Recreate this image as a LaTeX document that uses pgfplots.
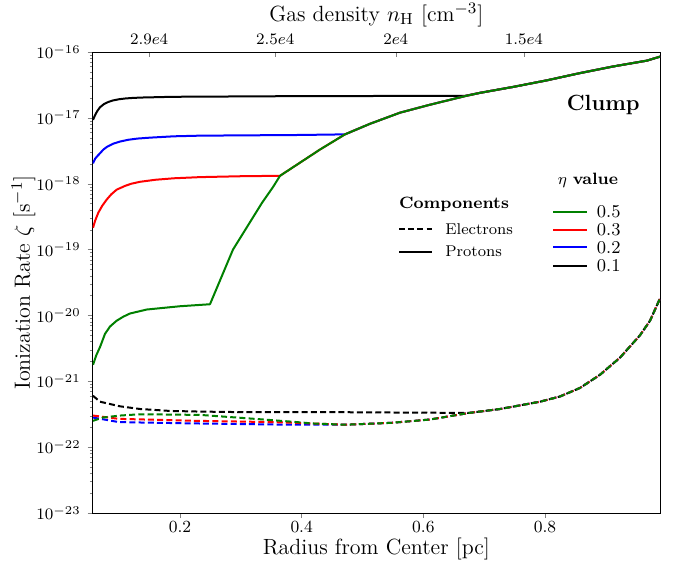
\documentclass[border=0pt]{standalone}
\usepackage{pgfplots}
\pgfplotsset{compat=1.18}
\definecolor{mgreen}{RGB}{0,128,0}

\begin{document}
\begin{tikzpicture}
% top axis: gas density
\begin{axis}[
    scale only axis, width=283.65pt, height=230.5pt,
    xmin=0.0565, xmax=0.989, ymin=0, ymax=1,
    axis x line*=top, axis y line=none,
    xtick={0.1492,0.3565,0.5546,0.7653},
    xticklabels={$2.9e4$,$2.5e4$,$2e4$,$1.5e4$},
    tick align=inside,
    major tick length=2.5pt,
    tick label style={font=\fontsize{8.5}{10}\selectfont},
    xlabel={Gas density $n_{\mathrm{H}}$ [cm$^{-3}$]},
    label style={font=\fontsize{11}{13}\selectfont, inner sep=0pt},
    xlabel style={at={(axis description cs:0.5,1.08)}, anchor=center},
]
\end{axis}

\begin{axis}[
    name=main,
    scale only axis, width=283.65pt, height=230.5pt,
    xmin=0.0565, xmax=0.989,
    ymode=log, ymin=1e-23, ymax=1e-16,
    xtick={0.2,0.4,0.6,0.8},
    xticklabels={0.2,0.4,0.6,0.8},
    ytick={1e-23,1e-22,1e-21,1e-20,1e-19,1e-18,1e-17,1e-16},
    minor ytick={2e-23,3e-23,4e-23,5e-23,6e-23,7e-23,8e-23,9e-23,
                 2e-22,3e-22,4e-22,5e-22,6e-22,7e-22,8e-22,9e-22,
                 2e-21,3e-21,4e-21,5e-21,6e-21,7e-21,8e-21,9e-21,
                 2e-20,3e-20,4e-20,5e-20,6e-20,7e-20,8e-20,9e-20,
                 2e-19,3e-19,4e-19,5e-19,6e-19,7e-19,8e-19,9e-19,
                 2e-18,3e-18,4e-18,5e-18,6e-18,7e-18,8e-18,9e-18,
                 2e-17,3e-17,4e-17,5e-17,6e-17,7e-17,8e-17,9e-17},
    tick pos=left,
    tick align=outside,
    major tick length=2.5pt,
    minor tick length=1.4pt,
    tick label style={font=\fontsize{8.5}{10}\selectfont},
    xticklabel style={yshift=2pt},
    label style={font=\fontsize{11}{13}\selectfont, inner sep=0pt},
    xlabel={Radius from Center [pc]},
    ylabel={Ionization Rate $\zeta$ [s$^{-1}$]},
    xlabel style={at={(axis description cs:0.5,-0.078)}, anchor=center},
    ylabel style={at={(axis description cs:-0.122,0.5)}, anchor=center},
    every axis plot/.append style={line width=1pt, line join=round},
]

% protons (solid)
\addplot[black] coordinates {
(0.057,9.33e-18)(0.060,1.08e-17)(0.064,1.27e-17)(0.0685,1.45e-17)(0.075,1.62e-17)
(0.0825,1.75e-17)(0.0899,1.84e-17)(0.100,1.92e-17)(0.110,1.97e-17)(0.1227,2.01e-17)
(0.140,2.04e-17)(0.160,2.06e-17)(0.1885,2.09e-17)(0.3973,2.14e-17)(0.6685,2.16e-17)
(0.6932,2.40e-17)(0.7474,2.95e-17)(0.8033,3.72e-17)(0.8576,4.79e-17)(0.9118,6.03e-17)
(0.9677,7.41e-17)(0.9891,8.51e-17)};
\addplot[blue] coordinates {
(0.057,2.04e-18)(0.0605,2.4e-18)(0.0645,2.65e-18)(0.0685,2.9e-18)(0.074,3.3e-18)
(0.080,3.63e-18)(0.090,4.05e-18)(0.1014,4.37e-18)(0.115,4.65e-18)(0.130,4.85e-18)
(0.1507,5.01e-18)(0.190,5.25e-18)(0.2329,5.37e-18)(0.3973,5.50e-18)(0.4712,5.62e-18)
(0.5123,8.13e-18)(0.5617,1.20e-17)(0.6110,1.585e-17)(0.6685,2.14e-17)(0.6932,2.40e-17)
(0.7474,2.95e-17)(0.8033,3.72e-17)(0.8576,4.79e-17)(0.9118,6.03e-17)(0.9677,7.41e-17)
(0.9891,8.51e-17)};
\addplot[red] coordinates {
(0.057,2.14e-19)(0.0605,2.75e-19)(0.0657,3.63e-19)(0.072,4.6e-19)(0.0795,5.75e-19)
(0.087,6.9e-19)(0.0959,8.13e-19)(0.110,9.3e-19)(0.120,1.0e-18)(0.1342,1.07e-18)
(0.160,1.15e-18)(0.190,1.21e-18)(0.2329,1.26e-18)(0.300,1.30e-18)(0.3644,1.32e-18)
(0.3973,2.09e-18)(0.4302,3.31e-18)(0.4712,5.62e-18)(0.5123,8.13e-18)(0.5617,1.20e-17)
(0.6110,1.585e-17)(0.6685,2.14e-17)(0.6932,2.40e-17)(0.7474,2.95e-17)(0.8033,3.72e-17)
(0.8576,4.79e-17)(0.9118,6.03e-17)(0.9677,7.41e-17)(0.9891,8.51e-17)};
\addplot[mgreen] coordinates {
(0.057,1.78e-21)(0.0625,2.5e-21)(0.0685,3.31e-21)(0.0767,5.25e-21)(0.085,6.8e-21)
(0.0959,8.32e-21)(0.107,9.6e-21)(0.1178,1.07e-20)(0.1453,1.23e-20)(0.2,1.38e-20)
(0.2493,1.48e-20)(0.2871,1.0e-19)(0.3348,5.13e-19)(0.3529,8.91e-19)(0.3644,1.32e-18)
(0.3973,2.09e-18)(0.4302,3.31e-18)(0.4712,5.62e-18)(0.5123,8.13e-18)(0.5617,1.20e-17)
(0.6110,1.585e-17)(0.6685,2.14e-17)(0.6932,2.40e-17)(0.7474,2.95e-17)(0.8033,3.72e-17)
(0.8576,4.79e-17)(0.9118,6.03e-17)(0.9677,7.41e-17)(0.9891,8.51e-17)};

% electrons (dashed)
\addplot[black, dash pattern=on 3pt off 1.6pt] coordinates {
(0.057,6.03e-22)(0.0685,4.90e-22)(0.1014,4.17e-22)(0.1342,3.80e-22)(0.1836,3.55e-22)
(0.2329,3.47e-22)(0.3151,3.39e-22)(0.4795,3.39e-22)(0.6751,3.31e-22)(0.7261,3.80e-22)
(0.7918,4.90e-22)(0.8247,5.89e-22)(0.8576,7.94e-22)(0.8905,1.26e-21)(0.9233,2.29e-21)
(0.9562,5.01e-21)(0.9726,8.32e-21)(0.9891,1.82e-20)};
\addplot[blue, dash pattern=on 3pt off 1.6pt] coordinates {
(0.057,2.82e-22)(0.0997,2.40e-22)(0.2279,2.29e-22)(0.3874,2.19e-22)(0.4712,2.19e-22)
(0.5469,2.34e-22)(0.6110,2.63e-22)(0.6751,3.31e-22)(0.7261,3.80e-22)(0.7918,4.90e-22)
(0.8247,5.89e-22)(0.8576,7.94e-22)(0.8905,1.26e-21)(0.9233,2.29e-21)(0.9562,5.01e-21)
(0.9726,8.32e-21)(0.9891,1.82e-20)};
\addplot[red, dash pattern=on 3pt off 1.6pt] coordinates {
(0.057,3.02e-22)(0.0997,2.69e-22)(0.2279,2.51e-22)(0.3545,2.40e-22)(0.4186,2.29e-22)
(0.4712,2.19e-22)(0.5469,2.34e-22)(0.6110,2.63e-22)(0.6751,3.31e-22)(0.7261,3.80e-22)
(0.7918,4.90e-22)(0.8247,5.89e-22)(0.8576,7.94e-22)(0.8905,1.26e-21)(0.9233,2.29e-21)
(0.9562,5.01e-21)(0.9726,8.32e-21)(0.9891,1.82e-20)};
\addplot[mgreen, dash pattern=on 3pt off 1.6pt] coordinates {
(0.057,2.51e-22)(0.0734,2.82e-22)(0.1014,3.02e-22)(0.1342,3.16e-22)(0.2329,3.09e-22)
(0.3233,2.69e-22)(0.3808,2.45e-22)(0.4186,2.29e-22)(0.4712,2.19e-22)(0.5469,2.34e-22)
(0.6110,2.63e-22)(0.6751,3.31e-22)(0.7261,3.80e-22)(0.7918,4.90e-22)(0.8247,5.89e-22)
(0.8576,7.94e-22)(0.8905,1.26e-21)(0.9233,2.29e-21)(0.9562,5.01e-21)(0.9726,8.32e-21)
(0.9891,1.82e-20)};

% annotation
\node[font=\fontsize{11}{13}\selectfont\bfseries] at (rel axis cs:0.90,0.885) {Clump};

% legend: components
\node[font=\fontsize{8.2}{10}\selectfont\bfseries] at (rel axis cs:0.637,0.670) {Components};
\draw[black, line width=1pt, dash pattern=on 3pt off 1.6pt]
  (rel axis cs:0.540,0.616) -- (rel axis cs:0.598,0.616);
\node[anchor=west, inner sep=0pt, font=\fontsize{7.8}{9}\selectfont] at (rel axis cs:0.621,0.616) {Electrons};
\draw[black, line width=1pt] (rel axis cs:0.540,0.567) -- (rel axis cs:0.598,0.567);
\node[anchor=west, inner sep=0pt, font=\fontsize{7.8}{9}\selectfont] at (rel axis cs:0.621,0.567) {Protons};

% legend: eta value
\node[font=\fontsize{8.2}{10}\selectfont] at (rel axis cs:0.873,0.721) {$\eta$ \textbf{value}};
\draw[mgreen, line width=1pt] (rel axis cs:0.812,0.654) -- (rel axis cs:0.872,0.654);
\draw[red, line width=1pt] (rel axis cs:0.812,0.615) -- (rel axis cs:0.872,0.615);
\draw[blue, line width=1pt] (rel axis cs:0.812,0.576) -- (rel axis cs:0.872,0.576);
\draw[black, line width=1pt] (rel axis cs:0.812,0.536) -- (rel axis cs:0.872,0.536);
\node[anchor=west, inner sep=0pt, font=\fontsize{9.5}{11}\selectfont] at (rel axis cs:0.888,0.654) {$0.5$};
\node[anchor=west, inner sep=0pt, font=\fontsize{9.5}{11}\selectfont] at (rel axis cs:0.888,0.615) {$0.3$};
\node[anchor=west, inner sep=0pt, font=\fontsize{9.5}{11}\selectfont] at (rel axis cs:0.888,0.576) {$0.2$};
\node[anchor=west, inner sep=0pt, font=\fontsize{9.5}{11}\selectfont] at (rel axis cs:0.888,0.536) {$0.1$};
\end{axis}

% keep the reference's margins
\path ([xshift=-46.35pt,yshift=-28pt]main.south west) rectangle ([xshift=10.5pt,yshift=26pt]main.north east);
\end{tikzpicture}
\end{document}
